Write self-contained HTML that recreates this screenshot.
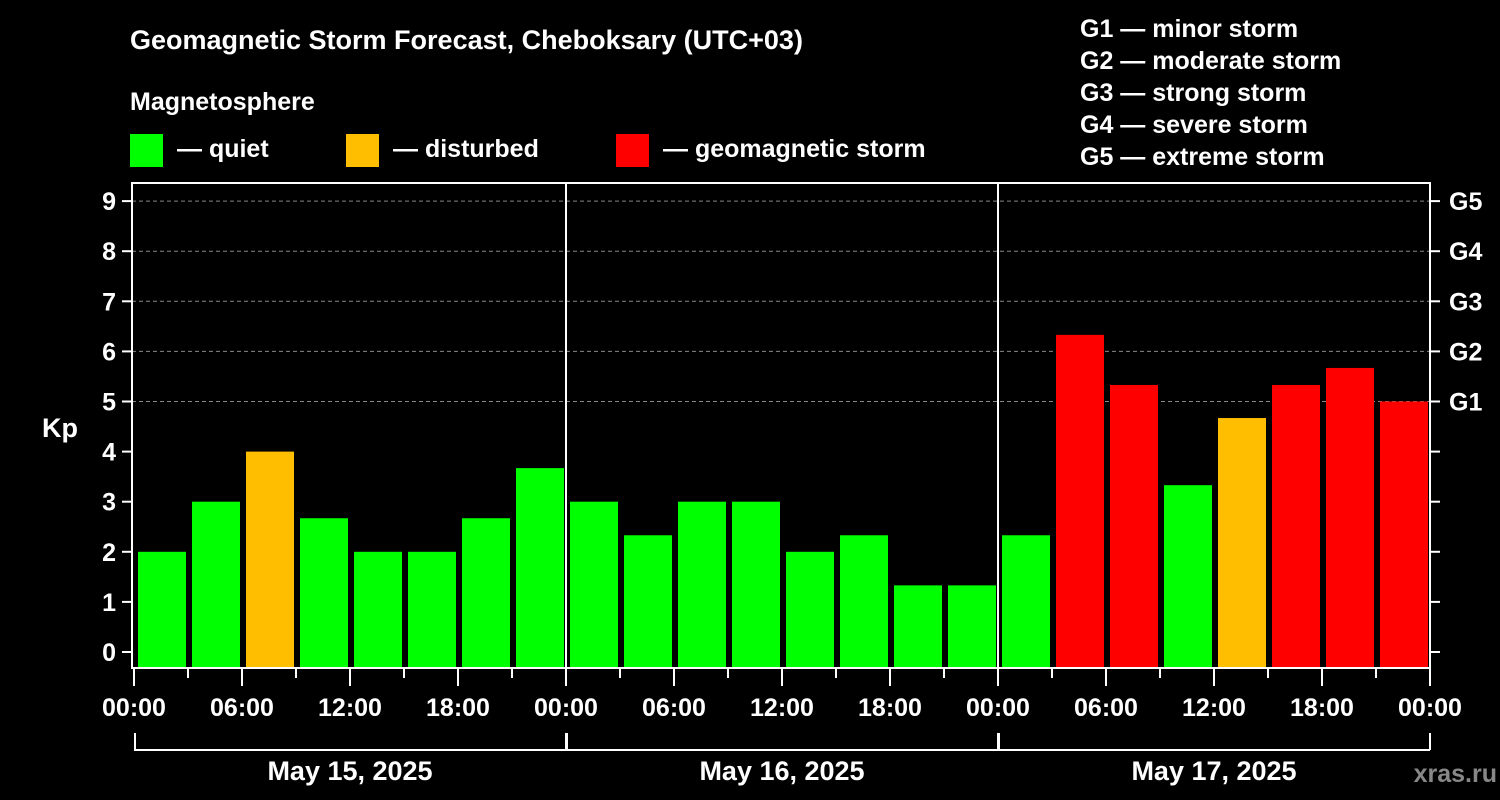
<!DOCTYPE html>
<html><head><meta charset="utf-8"><style>
html,body{margin:0;padding:0;background:#000;}
svg{display:block;font-family:"Liberation Sans",Arial,sans-serif;font-weight:bold;}
</style></head><body>
<svg id="chart" width="1500" height="800" viewBox="0 0 1500 800">
<rect x="0" y="0" width="1500" height="800" fill="#000"/>
<text x="130" y="49" fill="#fff" font-size="27">Geomagnetic Storm Forecast, Cheboksary (UTC+03)</text>
<text x="130" y="110" fill="#fff" font-size="25">Magnetosphere</text>
<g><rect x="130" y="134" width="33" height="33" fill="#00ff00"/><text x="177" y="157" fill="#fff" font-size="25">— quiet</text></g>
<g><rect x="346" y="134" width="33" height="33" fill="#ffbf00"/><text x="393" y="157" fill="#fff" font-size="25">— disturbed</text></g>
<g><rect x="616" y="134" width="33" height="33" fill="#ff0000"/><text x="663" y="157" fill="#fff" font-size="25">— geomagnetic storm</text></g>
<g fill="#fff" font-size="25">
<text x="1080" y="37">G1 — minor storm</text>
<text x="1080" y="69">G2 — moderate storm</text>
<text x="1080" y="101">G3 — strong storm</text>
<text x="1080" y="133">G4 — severe storm</text>
<text x="1080" y="165">G5 — extreme storm</text>
</g>
<text x="42" y="437" fill="#fff" font-size="27">Kp</text>
<text x="1497" y="782" fill="#888" font-size="25" text-anchor="end">xras.ru</text>
<g id="plot"></g>
</svg>
<script>
const kpValues=[2,3,4,2.67,2,2,2.67,3.67, 3,2.33,3,3,2,2.33,1.33,1.33, 2.33,6.33,5.33,3.33,4.67,5.33,5.67,5];
const yTicks=[0,1,2,3,4,5,6,7,8,9];
const gLabels=["G1","G2","G3","G4","G5"];
const gLevels=[5,6,7,8,9];
const timeLabels=["00:00","06:00","12:00","18:00"];
const dayLabels=["May 15, 2025","May 16, 2025","May 17, 2025"];
const NS="http://www.w3.org/2000/svg";
const plot=document.getElementById('plot');
const L=132,R=1430,T=183,B=668,X0=134,SLOT=54;
function y(v){return 652-v*50.1;}
function x(i){return X0+i*SLOT;}
function mk(tag,attrs,parent){const e=document.createElementNS(NS,tag);for(const k in attrs)e.setAttribute(k,attrs[k]);(parent||plot).appendChild(e);return e;}
function color(v){return v>=5?"#ff0000":(v>=4?"#ffbf00":"#00ff00");}
// gridlines
yTicks.forEach(v=>{if(v>=5){const g=mk('line',{x1:L,x2:R,y1:y(v),y2:y(v),stroke:"#888","stroke-dasharray":"4,3","stroke-width":1});

}});
// bars
kpValues.forEach((v,i)=>{const r=mk('rect',{x:x(i)+4,y:y(v),width:48,height:B-y(v),fill:color(v)});

});
// day separators
for(let d=1;d<3;d++){const l=mk('line',{x1:X0+d*432,x2:X0+d*432,y1:T,y2:B,stroke:"#fff","stroke-width":2});

}
// frame
const fr=mk('rect',{x:L,y:T,width:R-L,height:B-T,fill:"none",stroke:"#fff","stroke-width":2});


// y ticks left
yTicks.forEach(v=>{const t=mk('line',{x1:L-10,x2:L,y1:y(v),y2:y(v),stroke:"#fff","stroke-width":2});


const t2=mk('line',{x1:R,x2:R+10,y1:y(v),y2:y(v),stroke:"#fff","stroke-width":2});


const tx=mk('text',{x:L-16,y:y(v)+9,fill:"#fff","font-size":25,"text-anchor":"end"});tx.textContent=v;

});
gLabels.forEach((g,i)=>{const tx=mk('text',{x:1449,y:y(gLevels[i])+9,fill:"#fff","font-size":25});tx.textContent=g;

});
// x ticks
for(let i=0;i<=24;i++){const major=i%2===0;const t=mk('line',{x1:x(i),x2:x(i),y1:B,y2:B+(major?18:10),stroke:"#fff","stroke-width":2});

}
for(let d=0;d<=3;d++){for(let k=0;k<4;k++){if(d===3&&k>0)break;const tx=mk('text',{x:X0+d*432+k*108,y:716,fill:"#fff","font-size":25,"text-anchor":"middle"});tx.textContent=timeLabels[k];

}}
dayLabels.forEach((dl,d)=>{const a=X0+d*432,b=a+432;
const p=mk('path',{d:`M${a+1} 733 V750 H${b} M${b} 733 V750`,stroke:"#fff","stroke-width":2,fill:"none"});


const tx=mk('text',{x:a+216,y:780,fill:"#fff","font-size":27,"text-anchor":"middle"});tx.textContent=dl;

});
</script>
</body></html>
